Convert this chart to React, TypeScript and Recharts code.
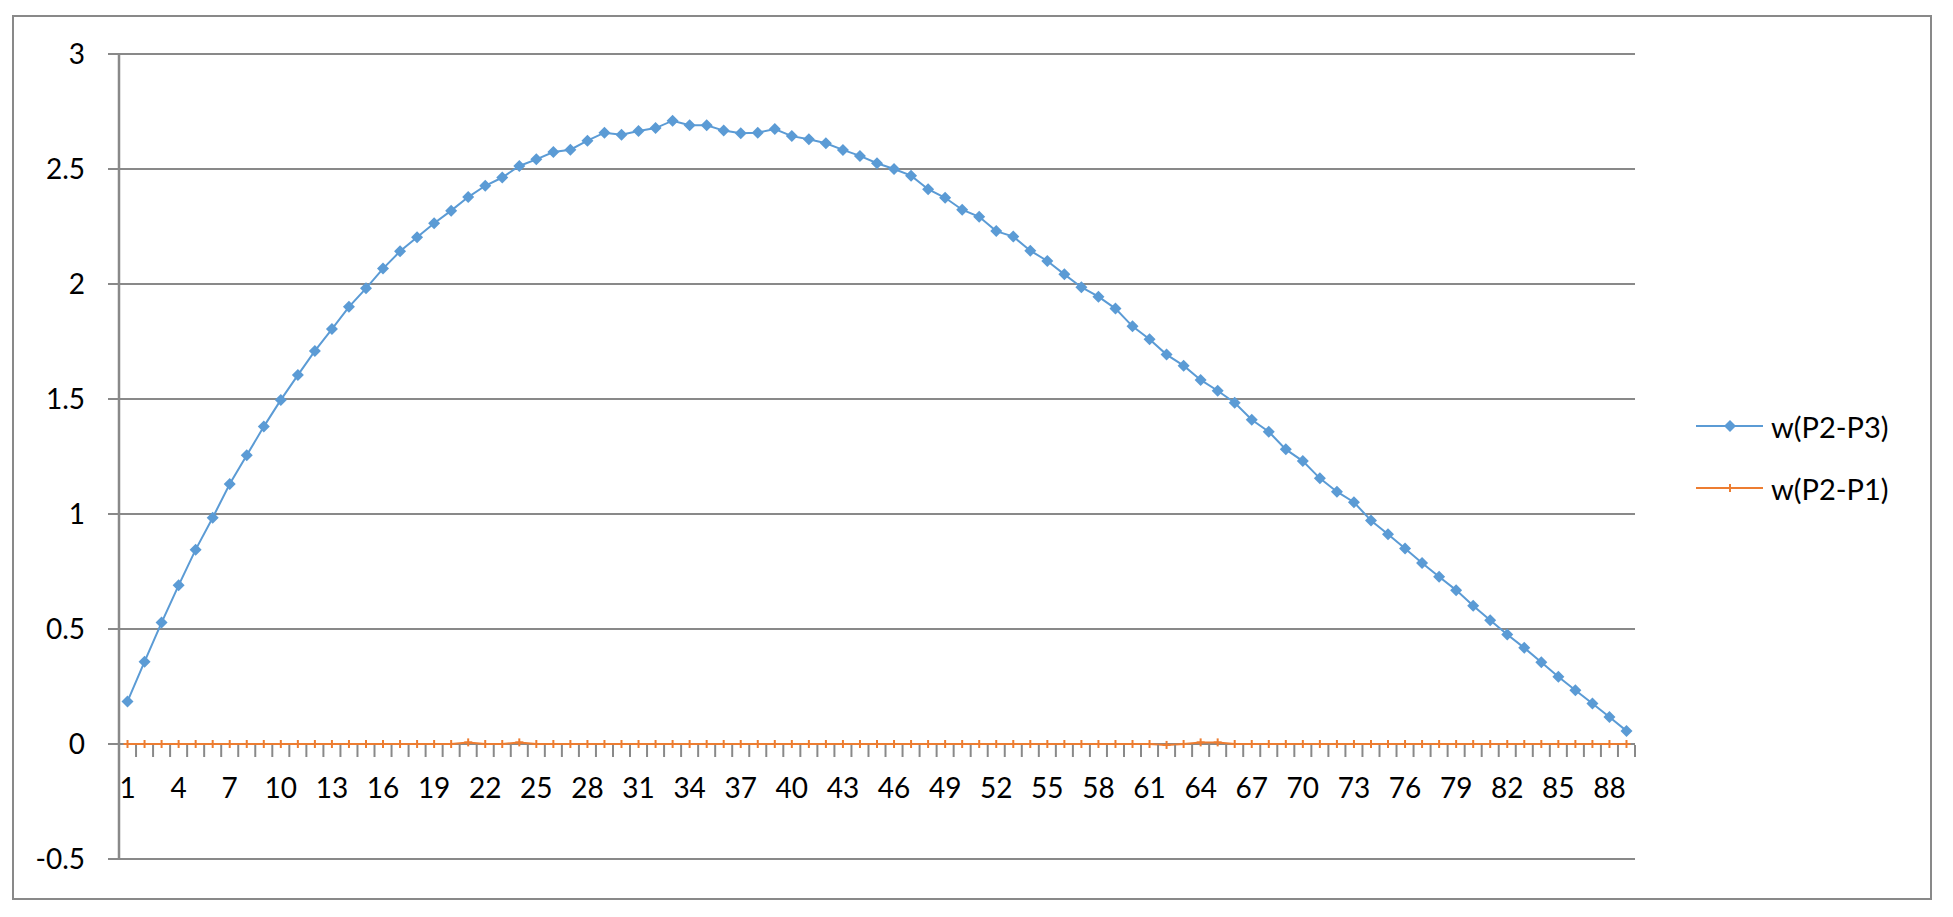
import { LineChart, Line, XAxis, YAxis, CartesianGrid, Legend } from 'recharts';

const categories = [
  1, 2, 3, 4, 5, 6, 7, 8, 9, 10, 11, 12, 13, 14, 15, 16, 17, 18, 19, 20,
  21, 22, 23, 24, 25, 26, 27, 28, 29, 30, 31, 32, 33, 34, 35, 36, 37, 38, 39, 40,
  41, 42, 43, 44, 45, 46, 47, 48, 49, 50, 51, 52, 53, 54, 55, 56, 57, 58, 59, 60,
  61, 62, 63, 64, 65, 66, 67, 68, 69, 70, 71, 72, 73, 74, 75, 76, 77, 78, 79, 80,
  81, 82, 83, 84, 85, 86, 87, 88, 89,
];

// only every third category gets a label on the axis
const shownLabels = [1, 4, 7, 10, 13, 16, 19, 22, 25, 28, 31, 34, 37, 40, 43, 46, 49, 52, 55, 58, 61, 64, 67, 70, 73, 76, 79, 82, 85, 88];

const wP2P3 = [
  0.185, 0.358, 0.528, 0.69, 0.845, 0.984, 1.13, 1.255, 1.38, 1.496,
  1.604, 1.709, 1.804, 1.901, 1.981, 2.067, 2.142, 2.203, 2.264, 2.319,
  2.378, 2.427, 2.463, 2.513, 2.542, 2.574, 2.584, 2.623, 2.658, 2.649,
  2.665, 2.678, 2.71, 2.69, 2.69, 2.667, 2.655, 2.658, 2.674, 2.643,
  2.629, 2.612, 2.583, 2.557, 2.525, 2.5, 2.471, 2.412, 2.375, 2.323,
  2.292, 2.23, 2.206, 2.145, 2.1, 2.042, 1.986, 1.945, 1.893, 1.816,
  1.76, 1.693, 1.645, 1.583, 1.536, 1.484, 1.41, 1.358, 1.281, 1.23,
  1.155, 1.097, 1.051, 0.972, 0.912, 0.85, 0.787, 0.727, 0.669, 0.601,
  0.538, 0.476, 0.418, 0.355, 0.292, 0.234, 0.176, 0.117, 0.057,
];

const wP2P1 = [
  0, 0, 0, 0, 0, 0, 0, 0, 0, 0,
  0, 0, 0, 0, 0, 0, 0, 0, 0, 0,
  0.007, 0, 0, 0.007, 0, 0, 0, 0, 0, 0,
  0, 0, 0, 0, 0, 0, 0, 0, 0, 0,
  0, 0, 0, 0, 0, 0, 0, 0, 0, 0,
  0, 0, 0, 0, 0, 0, 0, 0, 0, 0,
  0, -0.004, 0, 0.007, 0.007, 0, 0, 0, 0, 0,
  0, 0, 0, 0, 0, 0, 0, 0, 0, 0,
  0, 0, 0, 0, 0, 0, 0, 0, 0,
];

const yTicks = [-0.5, 0, 0.5, 1, 1.5, 2, 2.5, 3];
const seriesOrder = ['p2p3', 'p2p1'];

const data = categories.map((c, i) => ({ cat: c, p2p3: wP2P3[i], p2p1: wP2P1[i] }));

const W = 1953;
const H = 917;
const PLOT_LEFT = 119;
const PLOT_RIGHT = 1635;
const PLOT_TOP = 54;
const PLOT_BOTTOM = 859;
const Y_MIN = -0.5;
const Y_MAX = 3;
const ZERO_Y = PLOT_TOP + ((Y_MAX - 0) / (Y_MAX - Y_MIN)) * (PLOT_BOTTOM - PLOT_TOP);
const BAND = (PLOT_RIGHT - PLOT_LEFT) / categories.length;
const Y_AXIS_W = 100;
const X_AXIS_H = 30;

const GRAY = '#898989';
const BLUE = '#5b9bd5';
const ORANGE = '#ed7d31';
const FONT = 'Lato, "Open Sans", sans-serif';

const Diamond = ({ cx, cy, r = 6 }: any) => (
  <polygon points={`${cx},${cy - r} ${cx + r},${cy} ${cx},${cy + r} ${cx - r},${cy}`} fill={BLUE} />
);

const Plus = ({ cx, cy, r = 4 }: any) => (
  <g>
    <line x1={cx} x2={cx} y1={cy - r} y2={cy + r} stroke={ORANGE} strokeWidth={2} />
    <line x1={cx - r} x2={cx + r} y1={cy} y2={cy} stroke={ORANGE} strokeWidth={2} />
  </g>
);

// category axis sits on the zero line, ticks go between categories
const CategoryTick = ({ x, payload }: any) => {
  const right = x + BAND / 2;
  return (
    <g>
      <line x1={right} x2={right} y1={ZERO_Y + 1} y2={ZERO_Y + 13} stroke={GRAY} strokeWidth={2} />
      {shownLabels.includes(payload.value) && (
        <text x={x} y={ZERO_Y + 54} textAnchor="middle" fill="#000" fontSize={28} fontFamily={FONT}>
          {payload.value}
        </text>
      )}
    </g>
  );
};

const renderLegend = ({ payload }: any) => {
  const items = [...(payload || [])].sort(
    (a: any, b: any) => seriesOrder.indexOf(a.dataKey) - seriesOrder.indexOf(b.dataKey)
  );
  return (
    <div>
      {items.map((entry: any) => (
        <div key={entry.value} style={{ display: 'flex', alignItems: 'center', height: 62 }}>
          <svg width={67} height={20}>
            <line x1={0} x2={67} y1={10} y2={10} stroke={entry.color} strokeWidth={2} />
            {entry.dataKey === 'p2p3' ? <Diamond cx={34} cy={10} /> : <Plus cx={34} cy={10} />}
          </svg>
          <span style={{ marginLeft: 8, fontSize: 29, fontFamily: FONT, color: '#000', lineHeight: 1 }}>
            {entry.value}
          </span>
        </div>
      ))}
    </div>
  );
};

export default function App() {
  return (
    <div style={{ position: 'absolute', left: 0, top: 0, width: W, height: H, background: '#fff' }}>
      <div
        style={{
          position: 'absolute',
          left: 12,
          top: 15,
          width: 1916,
          height: 881,
          border: `2px solid ${GRAY}`,
        }}
      />
      <div style={{ position: 'absolute', left: 0, top: 0 }}>
        <LineChart
          width={W}
          height={H}
          data={data}
          margin={{
            top: PLOT_TOP,
            right: W - PLOT_RIGHT,
            bottom: H - PLOT_BOTTOM - X_AXIS_H,
            left: PLOT_LEFT - Y_AXIS_W,
          }}
        >
          <CartesianGrid vertical={false} stroke={GRAY} strokeWidth={2} />
          <XAxis
            dataKey="cat"
            interval={0}
            height={X_AXIS_H}
            axisLine={false}
            tickLine={false}
            padding={{ left: BAND / 2, right: BAND / 2 }}
            tick={<CategoryTick />}
          />
          <YAxis
            type="number"
            domain={[Y_MIN, Y_MAX]}
            ticks={yTicks}
            interval={0}
            width={Y_AXIS_W}
            axisLine={{ stroke: GRAY, strokeWidth: 2.5 }}
            tickLine={{ stroke: GRAY, strokeWidth: 2 }}
            tickSize={11}
            tickMargin={23}
            tick={{ fill: '#000', fontSize: 28, fontFamily: FONT }}
          />
          <Legend
            layout="vertical"
            align="center"
            verticalAlign="middle"
            content={renderLegend}
            wrapperStyle={{ left: 1696, top: 395, width: 240 }}
          />
          <Line
            dataKey="p2p3"
            name="w(P2-P3)"
            stroke={BLUE}
            strokeWidth={2}
            dot={(p: any) => <Diamond key={`d${p.index}`} cx={p.cx} cy={p.cy} />}
            activeDot={false}
            isAnimationActive={false}
          />
          <Line
            dataKey="p2p1"
            name="w(P2-P1)"
            stroke={ORANGE}
            strokeWidth={2}
            dot={(p: any) => <Plus key={`p${p.index}`} cx={p.cx} cy={p.cy} />}
            activeDot={false}
            isAnimationActive={false}
          />
        </LineChart>
      </div>
    </div>
  );
}
